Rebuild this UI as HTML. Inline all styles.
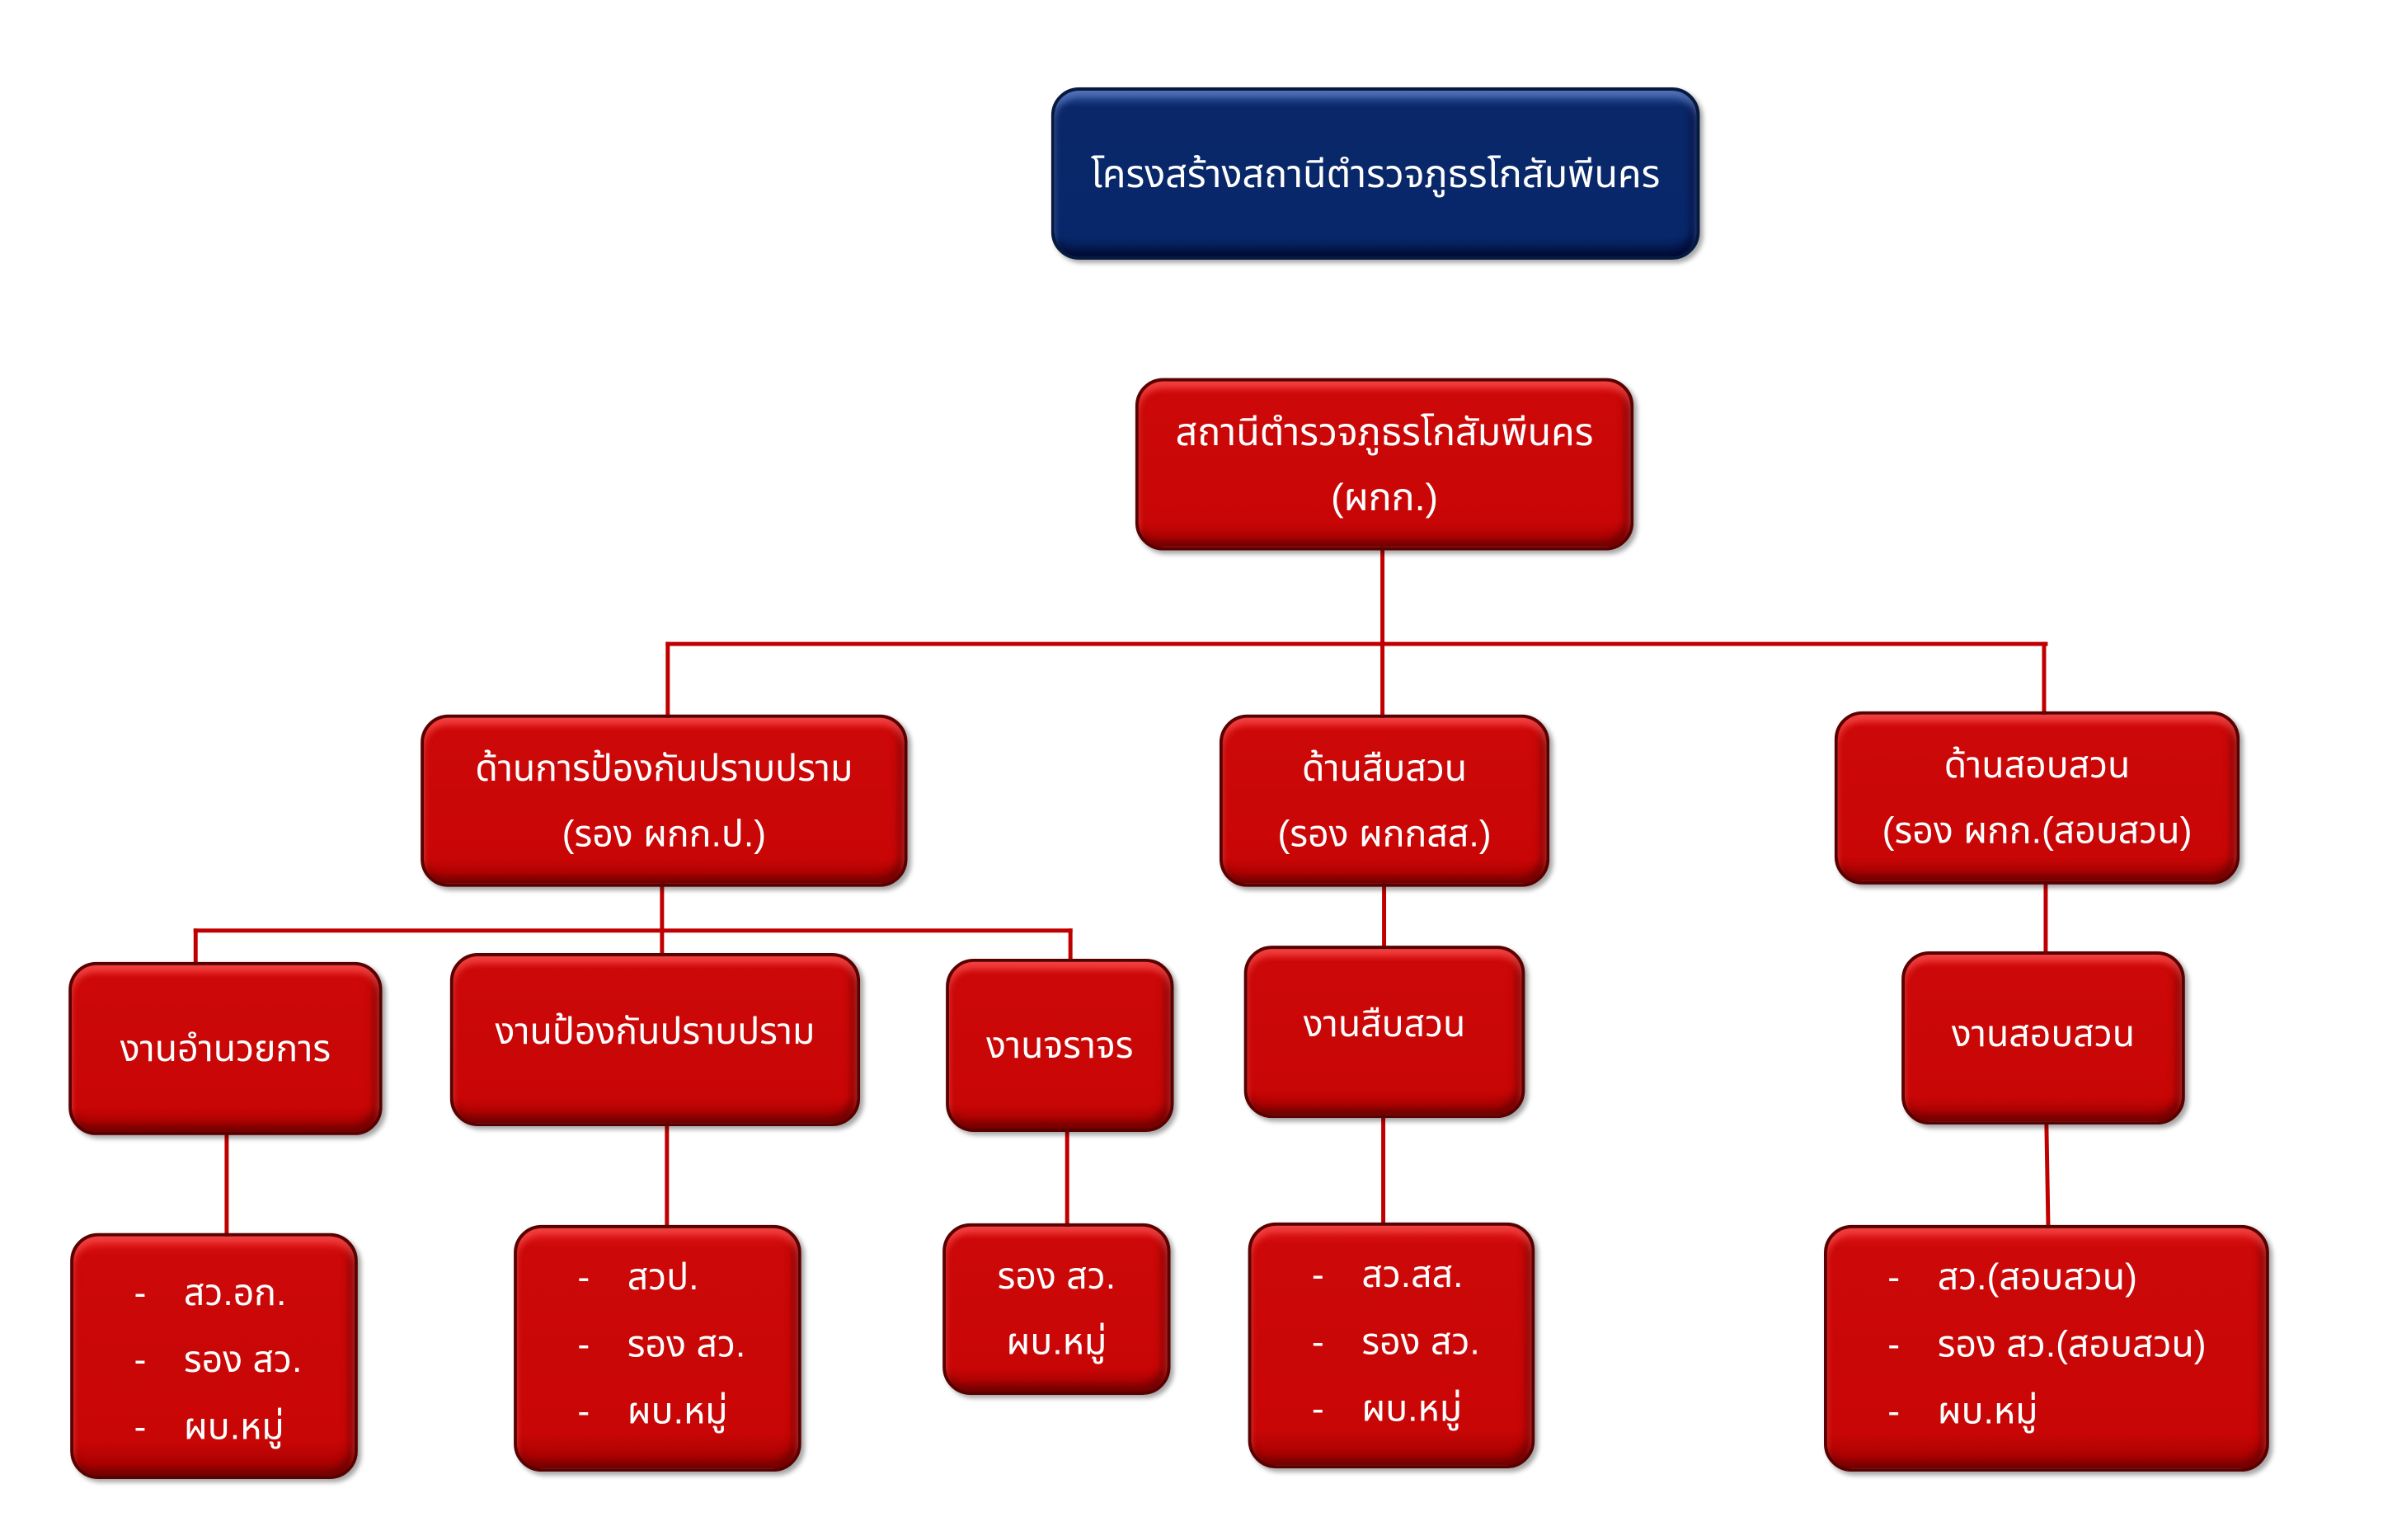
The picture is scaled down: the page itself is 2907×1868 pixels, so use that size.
<!DOCTYPE html>
<html><head><meta charset="utf-8"><style>
body{margin:0;width:2907px;height:1868px;background:#fff;position:relative;overflow:hidden;font-family:"Liberation Sans","Noto Sans Thai","Garuda","Loma",sans-serif;}
#w{position:absolute;left:0;top:0;width:2907px;height:1868px;transform:scale(0.9906);transform-origin:0 0;}
.b{position:absolute;box-sizing:border-box;border-radius:34px;background:linear-gradient(#e21a1a 0,#cc0808 8%,#c90606 85%,#a00000 100%);border:4px solid #5a0000;box-shadow:inset 0 8px 8px rgba(255,90,90,.6),inset -6px -8px 10px rgba(80,0,0,.6),4px 4px 6px rgba(0,0,0,.35);color:#fff;display:flex;flex-direction:column;align-items:center;justify-content:center;text-align:center;font-size:45px;line-height:80px;}
.blue{background:linear-gradient(#2e4f9a 0,#0a2869 10%,#08276a 88%,#041a4a 100%);border-color:#061a40;box-shadow:inset 0 8px 8px rgba(120,150,220,.5),inset -6px -8px 10px rgba(0,0,40,.6),4px 4px 6px rgba(0,0,0,.35);}
.l{position:absolute;background:#c00000;}
.list{align-items:flex-start;padding-left:28px !important;line-height:82px;}
.list div span{display:inline-block;width:107px;}
</style></head><body><div id="w">
<div class="l" style="left:1690px;top:670px;width:5px;height:210px"></div>
<div class="l" style="left:815px;top:786px;width:1692px;height:5px"></div>
<div class="l" style="left:815px;top:786px;width:5px;height:95px"></div>
<div class="l" style="left:2500px;top:786px;width:5px;height:90px"></div>
<div class="l" style="left:808px;top:1080px;width:5px;height:90px"></div>
<div class="l" style="left:237px;top:1137px;width:1076px;height:5px"></div>
<div class="l" style="left:237px;top:1137px;width:5px;height:45px"></div>
<div class="l" style="left:1308px;top:1137px;width:5px;height:40px"></div>
<div class="l" style="left:1692px;top:1080px;width:5px;height:80px"></div>
<div class="l" style="left:2502px;top:1080px;width:5px;height:90px"></div>
<div class="l" style="left:275px;top:1385px;width:5px;height:130px"></div>
<div class="l" style="left:814px;top:1375px;width:5px;height:130px"></div>
<div class="l" style="left:1304px;top:1380px;width:5px;height:125px"></div>
<div class="l" style="left:1691px;top:1365px;width:5px;height:135px"></div>
<div class="l" style="left:2504px;top:1375px;width:5px;height:130px;transform:rotate(-1deg)"></div>

<div class="b blue" style="left:1287px;top:107px;width:794px;height:211px;font-size:47px">โครงสร้างสถานีตำรวจภูธรโกสัมพีนคร</div>
<div class="b" style="left:1390px;top:463px;width:610px;height:211px;font-size:47px">สถานีตำรวจภูธรโกสัมพีนคร<br>(ผกก.)</div>
<div class="b" style="left:515px;top:875px;width:596px;height:211px">ด้านการป้องกันปราบปราม<br>(รอง ผกก.ป.)</div>
<div class="b" style="left:1493px;top:875px;width:404px;height:211px">ด้านสืบสวน<br>(รอง ผกกสส.)</div>
<div class="b" style="left:2246px;top:871px;width:496px;height:212px">ด้านสอบสวน<br>(รอง ผกก.(สอบสวน)</div>
<div class="b" style="left:84px;top:1178px;width:384px;height:212px">งานอำนวยการ</div>
<div class="b" style="left:551px;top:1167px;width:502px;height:212px;padding-bottom:20px">งานป้องกันปราบปราม</div>
<div class="b" style="left:1158px;top:1174px;width:279px;height:212px">งานจราจร</div>
<div class="b" style="left:1523px;top:1158px;width:344px;height:211px;padding-bottom:20px">งานสืบสวน</div>
<div class="b" style="left:2328px;top:1165px;width:347px;height:212px;padding-bottom:10px">งานสอบสวน</div>
<div class="b list" style="left:86px;top:1510px;width:352px;height:301px;padding-top:8px"><div><span>-</span>สว.อก.</div><div><span>-</span>รอง สว.</div><div><span>-</span>ผบ.หมู่</div></div>
<div class="b list" style="left:629px;top:1500px;width:352px;height:302px;padding-bottom:10px"><div><span>-</span>สวป.</div><div><span>-</span>รอง สว.</div><div><span>-</span>ผบ.หมู่</div></div>
<div class="b" style="left:1154px;top:1498px;width:279px;height:210px">รอง สว.<br>ผบ.หมู่</div>
<div class="b list" style="left:1528px;top:1497px;width:351px;height:301px;padding-bottom:10px"><div><span>-</span>สว.สส.</div><div><span>-</span>รอง สว.</div><div><span>-</span>ผบ.หมู่</div></div>
<div class="b list" style="left:2233px;top:1500px;width:545px;height:302px;padding-bottom:10px"><div><span>-</span>สว.(สอบสวน)</div><div><span>-</span>รอง สว.(สอบสวน)</div><div><span>-</span>ผบ.หมู่</div></div>
</div></body></html>
